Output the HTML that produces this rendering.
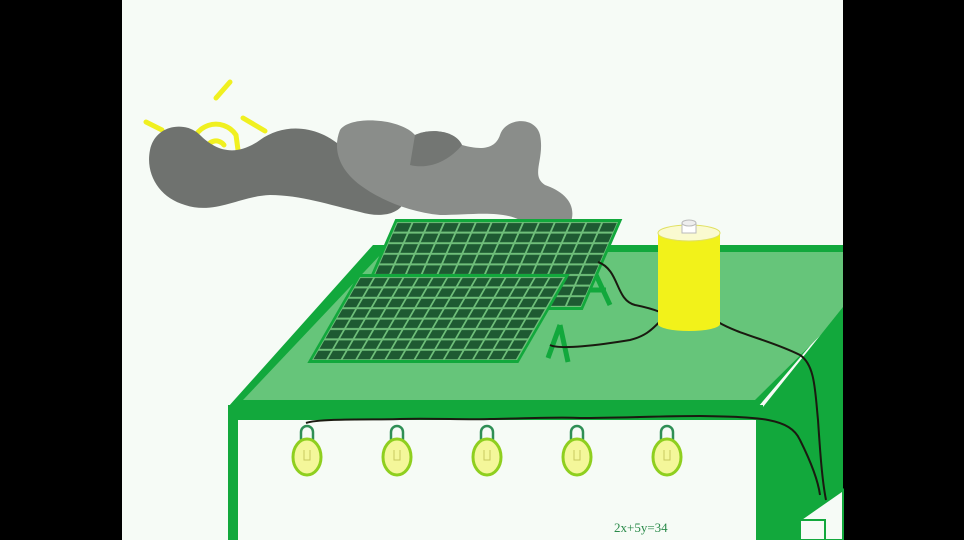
<!DOCTYPE html>
<html><head><meta charset="utf-8"><style>
html,body{margin:0;padding:0;background:#000;}
svg{display:block;}
</style></head><body>
<svg width="964" height="540" viewBox="0 0 964 540" xmlns="http://www.w3.org/2000/svg">
<defs>
<pattern id="c1" width="15.8" height="10.6" patternUnits="userSpaceOnUse">
<rect width="15.8" height="10.6" fill="#6fbf7a"/>
<rect x="1" y="1" width="13.8" height="8.6" fill="#1e5a32"/>
</pattern>
<pattern id="c2" width="14.6" height="10.4" patternUnits="userSpaceOnUse">
<rect width="14.6" height="10.4" fill="#6fbf7a"/>
<rect x="1" y="1" width="12.6" height="8.4" fill="#1e5a32"/>
</pattern>
</defs>
<rect x="0" y="0" width="964" height="540" fill="#000"/>
<rect x="122" y="0" width="721" height="540" fill="#f6fbf6"/>

<!-- sun -->
<g stroke="#f0f020" stroke-width="5" fill="none" stroke-linecap="round">
<path d="M192 150 A24 24 0 0 1 236 135 L238 150"/>
<path d="M206 150 A10 10 0 0 1 224 145"/>
<line x1="146" y1="122" x2="162" y2="130"/>
<line x1="216" y1="98" x2="230" y2="82"/>
<line x1="243" y1="118" x2="265" y2="131"/>
</g>

<!-- clouds -->
<path d="M150 150 C155 125 185 120 200 135 C215 150 235 158 260 140 C285 122 320 125 345 150 C365 170 385 185 405 200 C400 215 380 218 360 212 C330 205 300 195 270 195 C240 196 215 215 185 205 C160 198 145 175 150 150Z" fill="#6f726f"/>
<path d="M340 130 C350 115 400 118 415 135 C430 128 455 130 462 145 C480 150 495 150 500 135 C505 118 535 115 540 135 C545 160 530 175 545 185 C565 192 578 205 570 225 C560 240 540 235 520 220 C500 210 470 215 440 215 C410 212 380 200 360 185 C340 170 332 150 340 130Z" fill="#8a8d8a"/>
<path d="M415 135 C430 128 455 130 462 145 C450 160 430 170 410 165 Z" fill="#737673"/>

<!-- table top -->
<polygon points="373,245 843,245 843,307 758,407 228,407" fill="#12a83c"/>
<polygon points="383,252 843,252 843,313 755,400 243,400" fill="#66c57a"/>
<rect x="228" y="405" width="535" height="16" fill="#12a83c"/>
<rect x="228" y="418" width="10" height="122" fill="#12a83c"/>
<rect x="238" y="420" width="518" height="120" fill="#f6fbf6"/>
<polygon points="756,420 763,407 843,307 843,540 756,540" fill="#12a83c"/>
<polygon points="798,540 800,520 843,490 843,540" fill="#f6fbf6" stroke="#12a83c" stroke-width="2"/>
<rect x="800" y="520" width="25" height="20" fill="#f6fbf6" stroke="#12a83c" stroke-width="2"/>

<!-- stands -->
<g stroke="#12a83c" stroke-width="5" fill="none">
<path d="M590 262 L580 300 M590 262 L610 305 M582 290 L606 290"/>
<path d="M560 325 L548 358 M560 325 L568 362"/>
</g>

<g transform="translate(397,222) skewX(-23.5)">
<rect x="-3" y="-3" width="227" height="91" fill="#12a83c"/>
<rect x="0" y="0" width="221" height="85" fill="url(#c1)"/>
</g>
<g transform="translate(360,277) skewX(-30)">
<rect x="-3" y="-3" width="211" height="89" fill="#12a83c"/>
<rect x="0" y="0" width="205" height="83" fill="url(#c2)"/>
</g>

<g stroke="#1a1a10" stroke-width="2" fill="none">
<path d="M598 262 C620 270 615 300 635 305 C650 308 655 310 660 312"/>
<path d="M550 345 C560 350 600 345 630 340 C650 335 655 325 662 320"/>
<path d="M718 322 C740 335 770 340 800 355 C815 365 815 390 818 420 C820 450 822 480 826 500"/>
<path d="M306 423 C320 418 380 420 400 419 C430 418 470 420 490 419 C540 418 560 417 580 418 C620 418 660 416 700 416 C760 417 790 418 800 440 C810 460 818 480 820 495"/>
</g>

<rect x="658" y="232" width="62" height="92" fill="#f2f21a"/>
<ellipse cx="689" cy="324" rx="31" ry="7" fill="#f2f21a"/>
<ellipse cx="689" cy="233" rx="31" ry="8" fill="#fafad0" stroke="#e0e060" stroke-width="1"/>
<rect x="682" y="223" width="14" height="10" fill="#fff" stroke="#bbb" stroke-width="1"/>
<ellipse cx="689" cy="223" rx="7" ry="3" fill="#eee" stroke="#bbb" stroke-width="1"/>

<g id="b">
<g transform="translate(307,0)">
<path d="M-6 441 L-6 432 A6 6 0 0 1 6 432 L6 441" fill="none" stroke="#2f8f55" stroke-width="2.5"/>
<ellipse cx="0" cy="457" rx="14" ry="18" fill="#f4f79a" stroke="#8fcf1f" stroke-width="3"/>
<path d="M-3 450 L-3 460 L3 460 L3 450" fill="none" stroke="#c8c860" stroke-width="1"/>
</g>
</g>
<use href="#b" x="90"/>
<use href="#b" x="180"/>
<use href="#b" x="270"/>
<use href="#b" x="360"/>

<text x="614" y="532" font-family="Liberation Serif, serif" font-size="13" fill="#2a8a4a">2x+5y=34</text>
</svg>
</body></html>
